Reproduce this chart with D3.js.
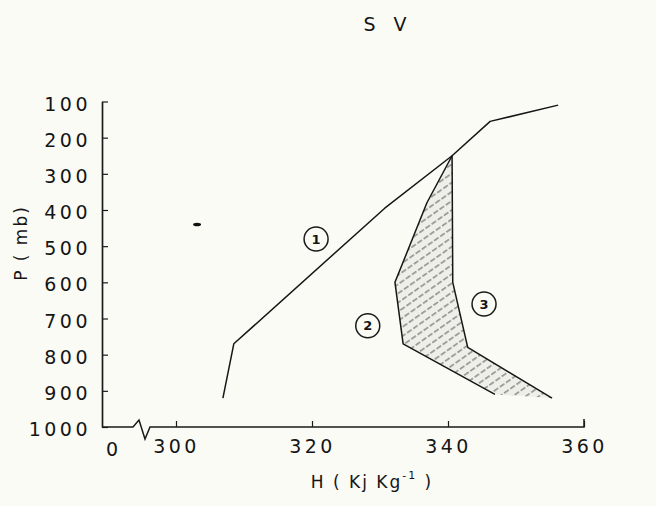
<!DOCTYPE html>
<html>
<head>
<meta charset="utf-8">
<script src="https://cdn.jsdelivr.net/npm/d3@7"></script>
<style>
  html, body { margin: 0; padding: 0; background: #fbfbf6; }
  svg { display: block; }
  text { font-family: "DejaVu Sans", sans-serif; fill: #151515; }
</style>
</head>
<body>
<div id="chart"></div>
<script>
// values (H in kJ/kg, P in mb)
const pTicks = [100, 200, 300, 400, 500, 600, 700, 800, 900, 1000];
const hTicks = [300, 320, 340, 360];

// curve 1
const curve1H = [306.9, 308.5, 330.7, 340.6, 346.2, 356.2];
const curve1P = [920, 770, 395, 250, 155, 110];
// curve 2 (left edge of hatched area)
const curve2H = [340.6, 336.9, 332.2, 333.4, 346.9];
const curve2P = [250, 380, 600, 770, 910];
// curve 3 (right edge of hatched area)
const curve3H = [340.6, 340.7, 342.9, 355.3];
const curve3P = [250, 600, 780, 920];

const circleLabels = ["1", "2", "3"];
const circleH = [320.6, 328.2, 345.3];
const circleP = [480, 720, 660];

const width = 656, height = 506;
const axisLeft = 102;

const svg = d3.select("#chart").append("svg")
    .attr("width", width)
    .attr("height", height);

svg.append("rect").attr("width", width).attr("height", height).attr("fill", "#fbfbf6");

const x = d3.scaleLinear().domain([300, 360]).range([176, 584]);
const y = d3.scaleLinear().domain([100, 1000]).range([101.5, 427]);

const zip = (hs, ps) => hs.map((h, i) => [h, ps[i]]);
const line = d3.line().x(d => x(d[0])).y(d => y(d[1]));

// hatching
const defs = svg.append("defs");
const pat = defs.append("pattern")
    .attr("id", "hatch")
    .attr("patternUnits", "userSpaceOnUse")
    .attr("width", 7.5).attr("height", 7.5)
    .attr("patternTransform", "rotate(-35)");
pat.append("rect").attr("width", 7.5).attr("height", 7.5).attr("fill", "#efefe9");
pat.append("line")
    .attr("x1", 0).attr("y1", 3.7).attr("x2", 7.5).attr("y2", 3.7)
    .attr("stroke", "#444").attr("stroke-width", 0.9)
    .attr("stroke-dasharray", "5.5,2");

const area = zip(curve2H, curve2P).concat(zip(curve3H, curve3P).reverse());
svg.append("path")
    .attr("d", line(area) + "Z")
    .attr("fill", "url(#hatch)")
    .attr("stroke", "none");

// y axis (ticks pointing inward)
const yAxis = svg.append("g")
    .attr("transform", `translate(${axisLeft},0)`)
    .call(d3.axisLeft(y).tickValues(pTicks).tickFormat(d3.format("d"))
        .tickSizeInner(-6).tickSizeOuter(0).tickPadding(11));
yAxis.select(".domain").attr("stroke", "#1a1a1a").attr("stroke-width", 1.7);
yAxis.selectAll(".tick line").attr("stroke", "#1a1a1a").attr("stroke-width", 1.2);
yAxis.selectAll(".tick text")
    .attr("dy", "0.45em")
    .style("font-size", "19px")
    .style("letter-spacing", "3.5px")
    .style("fill", "#151515");

// x axis with break
const x0 = y(1000);
const xAxis = svg.append("g")
    .attr("transform", `translate(0,${x0})`)
    .call(d3.axisBottom(x).tickValues(hTicks).tickSizeInner(-6).tickSizeOuter(0).tickPadding(13));
xAxis.select(".domain").remove();
xAxis.selectAll(".tick line").attr("stroke", "#1a1a1a").attr("stroke-width", 1.2);
xAxis.selectAll(".tick text")
    .style("font-size", "19px")
    .style("letter-spacing", "3.5px")
    .style("fill", "#151515");

const brk = [[axisLeft, 0], [133, 0], [139, -7], [145, 12], [150, 0], [x(360), 0], [x(360), -8]];
xAxis.append("path")
    .attr("d", d3.line()(brk))
    .attr("fill", "none")
    .attr("stroke", "#1a1a1a")
    .attr("stroke-width", 1.5);

svg.append("text")
    .attr("x", axisLeft + 10)
    .attr("y", x0 + 29)
    .attr("text-anchor", "middle")
    .style("font-size", "19px")
    .text("0");

// curves
[zip(curve1H, curve1P), zip(curve2H, curve2P), zip(curve3H, curve3P)].forEach(pts => {
    svg.append("path")
        .attr("d", line(pts))
        .attr("fill", "none")
        .attr("stroke", "#161616")
        .attr("stroke-width", 1.5)
        .attr("stroke-linejoin", "round");
});

// circled numbers
const circ = svg.selectAll(".circ")
    .data(circleLabels)
    .enter().append("g")
    .attr("class", "circ")
    .attr("transform", (d, i) => `translate(${x(circleH[i])},${y(circleP[i])})`);
circ.append("circle")
    .attr("r", 12)
    .attr("fill", "none")
    .attr("stroke", "#1a1a1a")
    .attr("stroke-width", 1.5);
circ.append("text")
    .attr("text-anchor", "middle")
    .attr("dy", "0.36em")
    .style("font-size", "13px")
    .style("font-weight", "bold")
    .text(d => d);

// stray ink mark from the original
svg.append("ellipse")
    .attr("cx", x(303.1)).attr("cy", y(440))
    .attr("rx", 4).attr("ry", 1.8)
    .attr("fill", "#111");

// titles
svg.append("text")
    .attr("x", 388).attr("y", 31)
    .attr("text-anchor", "middle")
    .style("font-size", "19px")
    .style("letter-spacing", "6px")
    .text("S V");

svg.append("text")
    .attr("transform", "translate(27,243) rotate(-90)")
    .attr("text-anchor", "middle")
    .style("font-size", "17px")
    .style("letter-spacing", "2px")
    .text("P ( mb)");

const xt = svg.append("text")
    .attr("x", 372).attr("y", 488)
    .attr("text-anchor", "middle")
    .style("font-size", "17px")
    .style("letter-spacing", "2px");
xt.append("tspan").text("H ( Kj Kg");
xt.append("tspan").attr("dy", -9).style("font-size", "11px").text("-1");
xt.append("tspan").attr("dy", 9).text(" )");
</script>
</body>
</html>
